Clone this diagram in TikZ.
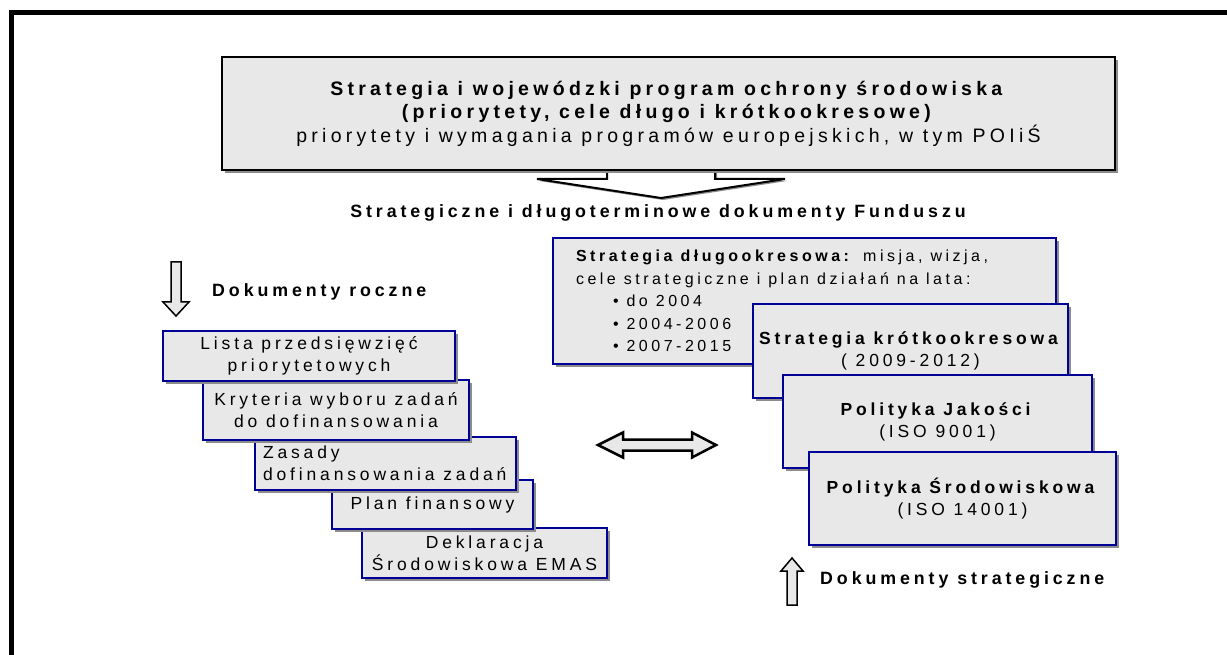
\documentclass[tikz,border=0pt]{standalone}
\usepackage{fontspec}
\setmainfont{Liberation Sans}[LetterSpace=22]
\usetikzlibrary{shadows}
\definecolor{boxfill}{RGB}{232,232,232}
\definecolor{boxline}{RGB}{0,0,150}
\definecolor{shadowgray}{RGB}{140,140,140}
\begin{document}
\begin{tikzpicture}[x=1pt,y=-1pt,
        docbox/.style={rectangle, draw=boxline, fill=boxfill, line width=1.8pt, inner sep=0pt, align=center,
            drop shadow={shadow xshift=3pt, shadow yshift=-3pt, fill=shadowgray, opacity=1},
            font=\fontsize{17.5}{22}\selectfont},
        topbox/.style={docbox, draw=black, font=\fontsize{19.5}{23.5}\selectfont},
        captiontext/.style={font=\bfseries\fontsize{17.8}{20}\selectfont, inner sep=0pt},
        blockarrow/.style={draw=black, line width=1.5pt, fill=boxfill, line join=miter},
    ]
        \useasboundingbox (0,0) rectangle (1227,655);
        \clip (0,0) rectangle (1227,655);

        % frame
        \draw[line width=5pt] (11.5,700) -- (11.5,12.5) -- (1260,12.5);

        % arrow under the top box
        \draw[blockarrow, fill=white, line width=2pt, drop shadow={shadow xshift=2pt, shadow yshift=-2pt, fill=shadowgray, opacity=1}]
            (607,150) -- (607,179) -- (537,179) -- (661,198) -- (785,179) -- (715,179) -- (715,150) -- cycle;

        %Nodes
        \node[topbox, minimum width=893, minimum height=113] (wpos) at (668.5,113.5)
            {\textbf{Strategia i wojewódzki program ochrony środowiska}\\
             \textbf{(priorytety, cele długo i krótkookresowe)}\\
             priorytety i wymagania programów europejskich, w tym POIiŚ};
        \node[captiontext] (fundusz) at (658,213) {Strategiczne i długoterminowe dokumenty Funduszu};

        % annual documents
        \node[captiontext, anchor=west] (roczne) at (212,292) {Dokumenty roczne};
        \node[docbox, minimum width=245, minimum height=50] (emas) at (484.5,553) {Deklaracja\\Środowiskowa EMAS};
        \node[docbox, minimum width=201, minimum height=49] (plan) at (432.5,504.5) {Plan finansowy};
        \node[docbox, text width=245, inner xsep=8pt, minimum height=53, align=left] (zasady) at (385.5,463.5)
            {\spaceskip=0pt\xspaceskip=0pt Zasady\\dofinansowania zadań};
        \node[docbox, minimum width=266, minimum height=60] (kryteria) at (336,410) {Kryteria wyboru zadań\\do dofinansowania};
        \node[docbox, minimum width=292, minimum height=50] (lista) at (309,356) {Lista przedsięwzięć\\priorytetowych};

        % strategic documents
        \node[docbox, text width=457, inner xsep=23pt, minimum height=126, align=left, font=\fontsize{16}{22.5}\selectfont] (dlugo) at (804.5,301)
            {\spaceskip=0pt\xspaceskip=0pt \textbf{Strategia długookresowa:} misja, wizja,\\
             cele strategiczne i plan działań na lata:\\
             \hspace*{37pt}• do 2004\\
             \hspace*{37pt}• 2004-2006\\
             \hspace*{37pt}• 2007-2015};
        \node[docbox, minimum width=315, minimum height=94] (krotko) at (910.5,351) {\textbf{Strategia krótkookresowa}\\( 2009-2012)};
        \node[docbox, minimum width=309, minimum height=93] (jakosc) at (937.5,421.5) {\textbf{Polityka Jakości}\\(ISO 9001)};
        \node[docbox, minimum width=307, minimum height=93] (srod) at (962.5,498.5) {\textbf{Polityka Środowiskowa}\\(ISO 14001)};
        \node[captiontext, anchor=west] (strateg) at (820,580) {Dokumenty strategiczne};

        % block arrows
        \draw[blockarrow] (171,262) -- (171,302) -- (163,302) -- (176,316) -- (189,302) -- (181,302) -- (181,262) -- cycle;
        \draw[blockarrow] (787,605) -- (787,571) -- (781,571) -- (792,558) -- (803,571) -- (797,571) -- (797,605) -- cycle;
        \draw[blockarrow, line width=2.5pt] (598,445) -- (623,432.5) -- (623,439.5) -- (692,439.5) -- (692,432.5) -- (716,445)
            -- (692,457.5) -- (692,450.5) -- (623,450.5) -- (623,457.5) -- cycle;
    \end{tikzpicture}
\end{document}
